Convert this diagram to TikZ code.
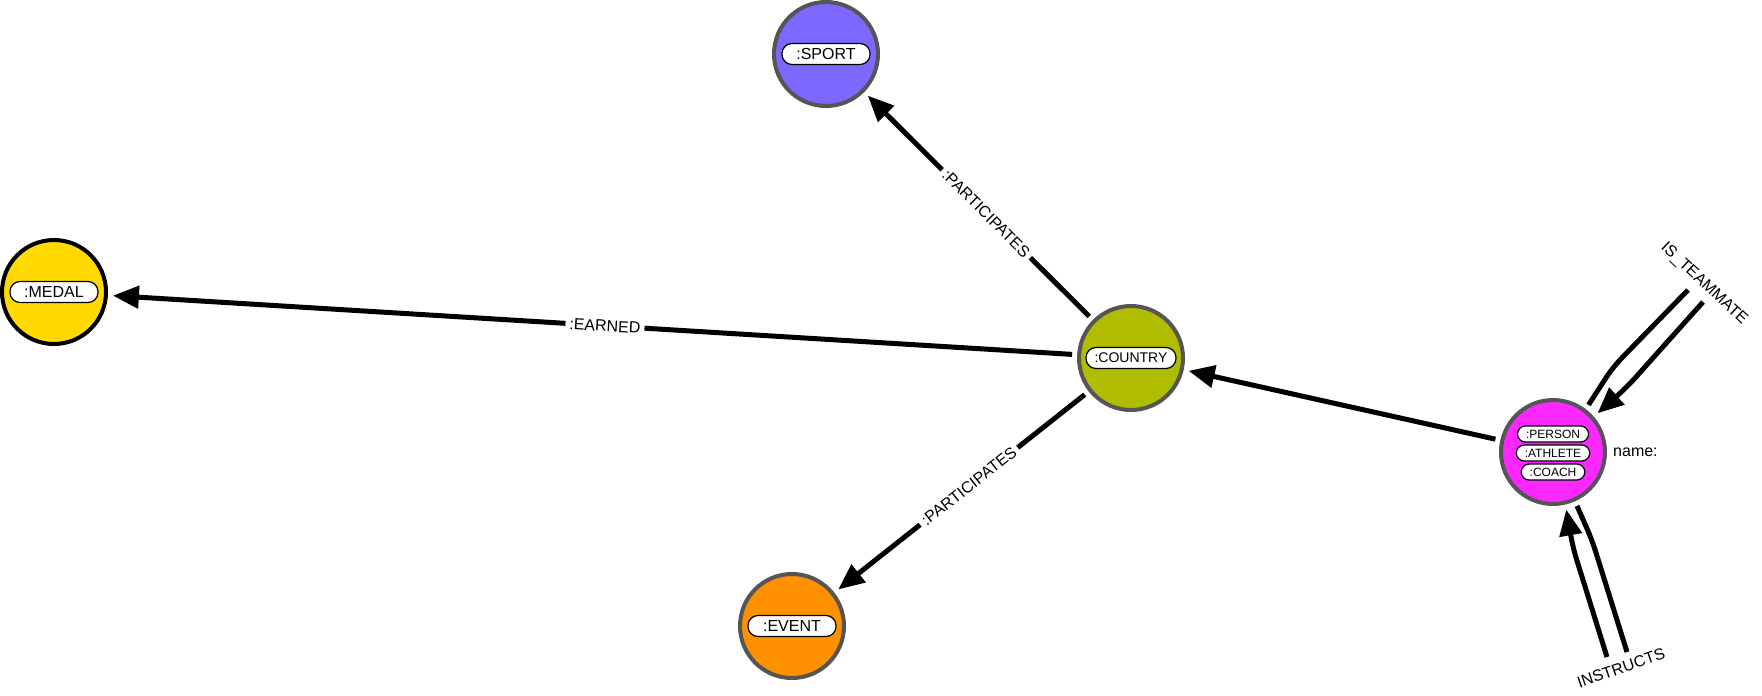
\documentclass[tikz,border=0pt]{standalone}
\usepackage{fontspec}
\setmainfont{Liberation Sans}
\usetikzlibrary{arrows.meta}
\definecolor{sportblue}{RGB}{125,104,255}
\definecolor{medalyellow}{RGB}{255,217,0}
\definecolor{countryolive}{RGB}{176,188,0}
\definecolor{eventorange}{RGB}{255,145,0}
\definecolor{personpink}{RGB}{250,40,255}
\definecolor{rimgray}{RGB}{85,85,85}
\begin{document}
\begin{tikzpicture}[x=1pt, y=-1pt,
			entity/.style={circle, draw=rimgray, line width=4pt, minimum size=104pt, inner sep=0pt, outer sep=7pt},
			pill/.style={draw=black, fill=white, line width=1.2pt, rounded corners=10pt, minimum height=21pt, minimum width=88pt, inner xsep=2pt, inner ysep=0pt, font=\fontsize{16}{19}\selectfont},
			smallpill/.style={pill, rounded corners=8pt, minimum height=16pt, minimum width=0pt, inner xsep=8.5pt, font=\fontsize{12}{14}\selectfont},
			rel/.style={line width=5pt, -{Triangle[length=26pt,width=22pt]}},
			loopline/.style={line width=5pt, rounded corners=12pt},
			rellabel/.style={font=\fontsize{16}{19}\selectfont, fill=white, inner sep=4pt},
			looplabel/.style={font=\fontsize{16}{19}\selectfont, inner sep=0pt},
			]
			\useasboundingbox (0,0) rectangle (1762,696);
			\node[entity, fill=sportblue] at (826,54) (sport) {};
			\node[entity, fill=medalyellow, draw=black] at (54,292) (medal) {};
			\node[entity, fill=countryolive] at (1131,358) (country) {};
			\node[entity, fill=eventorange] at (792,626) (event) {};
			\node[entity, fill=personpink] at (1553,452) (person) {};
			\node[pill] at (sport) (sportlbl) {:SPORT};
			\node[pill] at (medal) (medallbl) {:MEDAL};
			\node[pill, minimum width=90pt, font=\fontsize{14}{17}\selectfont] at (country) (countrylbl) {:COUNTRY};
			\node[pill] at (event) (eventlbl) {:EVENT};
			\node[smallpill] at (1553,434) (personlbl) {:PERSON};
			\node[smallpill] at (1553,453) (athletelbl) {:ATHLETE};
			\node[smallpill] at (1553,472) (coachlbl) {:COACH};
			\node[anchor=west, inner sep=0pt, font=\fontsize{16}{19}\selectfont] at (1613,452) (personname) {name:};
			\draw[rel] (country) -- (sport) node[pos=0.465, sloped, rellabel] (sportrel) {:PARTICIPATES};
			\draw[rel] (country) -- (medal) node[pos=0.487, sloped, rellabel] (medalrel) {:EARNED};
			\draw[rel] (country) -- (event) node[pos=0.47, sloped, rellabel] (eventrel) {:PARTICIPATES};
			\draw[rel] (person) -- (country);
			% self loops on the person
			\coordinate (tminnerbend) at (1613,367);
			\coordinate (tminner) at (1688,290);
			\coordinate (tmouter) at (1703,302);
			\coordinate (tmouterbend) at (1627,387);
			\draw[loopline] (person.53) -- (tminnerbend) -- (tminner);
			\draw[rel, rounded corners=12pt] (tmouter) -- (tmouterbend) -- (person.41);
			\node[looplabel, rotate=-43] at (1704,284) (tmlabel) {IS\_TEAMMATE};
			\coordinate (inleft) at (1607,657);
			\coordinate (inleftbend) at (1573,548);
			\coordinate (inrightbend) at (1592,540);
			\coordinate (inright) at (1627,652);
			\draw[rel, rounded corners=12pt] (inleft) -- (inleftbend) -- (person.-77);
			\draw[loopline] (person.-66) -- (inrightbend) -- (inright);
			\node[looplabel, rotate=19] at (1621,668) (inlabel) {INSTRUCTS};
		\end{tikzpicture}
\end{document}
